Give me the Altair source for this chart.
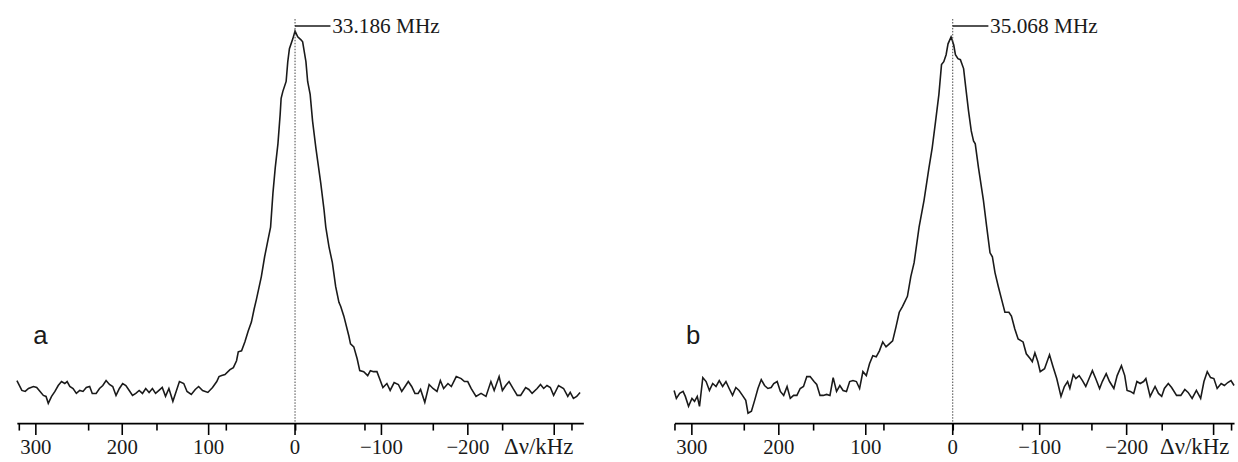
import altair as alt
import pandas as pd

# ---------------- data ----------------
A_KHZ = [321.9, 316.2, 312.3, 308.5, 302.8, 299.0, 295.1, 291.3, 288.2, 285.6,
         281.8, 277.9, 274.1, 270.3, 266.5, 263.8, 260.7, 256.9, 253.1, 249.2,
         245.4, 241.6, 237.7, 234.7, 230.2, 226.3, 222.5, 218.7, 214.8, 211.0,
         207.2, 203.3, 199.5, 195.8, 191.9, 188.1, 184.3, 180.4, 176.6, 172.8,
         168.9, 165.1, 161.4, 157.5, 153.7, 149.9, 146.0, 141.4, 137.6, 133.8,
         128.8, 125.0, 120.1, 115.5, 111.6, 107.0, 100.9, 95.5, 90.6, 88.0,
         84.9, 81.1, 75.3, 71.4, 67.7, 65.7, 61.9, 58.1, 54.2, 50.5,
         47.4, 44.7, 39.0, 35.2, 31.3, 28.3, 25.6, 22.9, 19.8, 17.2,
         16.1, 14.1, 10.3, 8.4, 6.5, 2.6, 0.0, -3.1, -6.9, -8.8,
         -12.6, -14.6, -17.5, -20.3, -24.1, -29.8, -33.6, -35.6, -39.3, -43.2,
         -47.0, -50.8, -52.8, -56.5, -62.3, -64.2, -68.0, -71.9, -74.9, -79.5,
         -84.1, -87.2, -90.9, -94.8, -97.8, -101.7, -106.3, -110.1, -114.7, -119.6,
         -123.5, -127.3, -131.1, -135.0, -138.8, -142.5, -145.3, -150.2, -155.2, -159.7,
         -164.3, -168.2, -172.0, -177.0, -180.9, -186.6, -192.3, -196.1, -199.9, -203.8,
         -209.5, -215.3, -221.0, -226.7, -230.5, -236.2, -240.0, -243.9, -247.7, -252.3,
         -257.2, -261.1, -266.9, -270.6, -274.4, -280.2, -284.1, -287.8, -291.6, -295.5,
         -299.3, -305.0, -310.8, -315.7, -318.5, -322.2, -326.0, -329.9]
A_INT = [43, 33, 32, 35, 37, 36, 32, 28, 27, 20,
         27, 32, 38, 42, 40, 42, 37, 35, 30, 33,
         32, 36, 37, 30, 30, 35, 38, 43, 39, 37,
         28, 35, 40, 38, 33, 28, 30, 33, 30, 35,
         31, 35, 30, 33, 36, 27, 35, 22, 32, 42,
         40, 32, 29, 34, 37, 33, 31, 36, 42, 47,
         48, 49, 54, 56, 63, 72, 73, 82, 93, 102,
         115, 125, 148, 168, 185, 198, 232, 258, 282, 312,
         328, 335, 345, 365, 378, 388, 396, 390, 387, 385,
         365, 345, 332, 305, 278, 242, 215, 198, 178, 162,
         138, 122, 118, 108, 88, 80, 77, 65, 53, 52,
         48, 53, 52, 52, 45, 36, 40, 33, 41, 39,
         32, 37, 42, 37, 30, 30, 34, 21, 39, 35,
         32, 43, 35, 40, 37, 47, 45, 42, 42, 35,
         27, 30, 27, 42, 33, 47, 33, 38, 42, 35,
         28, 28, 36, 34, 30, 35, 39, 35, 38, 36,
         28, 38, 35, 27, 31, 25, 27, 31]

B_KHZ = [320.4, 317.8, 314.0, 310.1, 307.5, 303.8, 299.9, 296.9, 293.8, 291.2,
         287.4, 283.6, 279.8, 276.0, 272.2, 268.5, 264.6, 260.8, 257.1, 253.2,
         249.4, 245.7, 241.8, 238.0, 235.4, 231.5, 227.8, 224.0, 220.2, 216.4,
         212.6, 208.8, 205.8, 201.9, 198.2, 194.4, 190.5, 186.8, 183.0, 179.2,
         175.4, 171.6, 167.8, 164.0, 159.5, 156.4, 152.6, 148.9, 145.0, 141.2,
         137.5, 133.6, 129.8, 126.1, 122.2, 118.5, 114.7, 110.8, 107.1, 103.3,
         99.4, 95.7, 91.9, 88.0, 84.3, 80.5, 76.7, 72.9, 69.1, 65.3,
         61.5, 57.7, 52.1, 48.2, 44.4, 38.7, 33.0, 27.3, 23.6, 19.7,
         15.9, 12.9, 10.3, 7.6, 5.4, 1.9, -1.1, -3.1, -6.0, -8.8,
         -12.5, -15.1, -18.2, -21.3, -23.9, -25.9, -29.6, -35.3, -39.1, -42.9,
         -45.6, -48.6, -52.4, -56.2, -60.0, -64.6, -67.5, -71.4, -75.2, -80.9,
         -84.6, -89.2, -91.5, -94.5, -97.9, -100.6, -105.6, -111.3, -115.0, -119.6,
         -124.5, -128.4, -132.1, -134.7, -138.6, -141.6, -145.4, -149.2, -153.0, -156.8,
         -160.6, -164.4, -168.9, -172.0, -176.5, -180.3, -185.3, -189.1, -194.0, -197.8,
         -200.5, -204.2, -208.1, -211.8, -215.6, -219.5, -222.1, -227.0, -232.7, -236.6,
         -240.3, -243.4, -247.9, -251.7, -257.4, -262.3, -266.9, -270.7, -275.3, -280.2,
         -285.1, -288.9, -292.7, -296.5, -300.3, -304.1, -308.7, -312.4, -316.3, -320.0,
         -323.5]
B_INT = [33, 25, 30, 32, 27, 17, 25, 22, 27, 17,
         46, 42, 33, 40, 37, 43, 37, 42, 35, 28,
         36, 33, 28, 23, 10, 12, 23, 35, 44, 38,
         35, 36, 40, 42, 32, 28, 37, 25, 28, 28,
         35, 37, 47, 47, 42, 39, 28, 28, 29, 28,
         46, 32, 38, 33, 32, 42, 43, 42, 35, 52,
         48, 60, 68, 67, 73, 82, 77, 80, 83, 97,
         112, 118, 128, 148, 162, 198, 225, 258, 278, 305,
         332, 362, 365, 372, 383, 390, 382, 372, 368, 367,
         358, 338, 315, 295, 285, 282, 258, 225, 198, 172,
         168, 152, 138, 125, 112, 112, 108, 95, 85, 82,
         70, 65, 62, 71, 62, 52, 55, 69, 58, 45,
         27, 37, 42, 35, 49, 45, 48, 43, 37, 45,
         53, 45, 35, 42, 50, 42, 35, 48, 58, 48,
         33, 32, 30, 42, 40, 42, 45, 27, 37, 30,
         27, 35, 40, 36, 28, 28, 34, 31, 25, 33,
         25, 42, 52, 46, 45, 35, 40, 38, 41, 43,
         38]

MINOR_TICKS = list(range(-320, 321, 20))
MAJOR_TICKS = [300, 200, 100, 0, -100, -200, -300]
MAJOR_LABELS = ["300", "200", "100", "0", "\u2212100", "\u2212200", ""]
PANEL_LETTERS = ["a", "b"]
PEAK_LABELS = ["33.186 MHz", "35.068 MHz"]
UNIT_LABEL = "Δν/kHz"

SERIF = "Liberation Serif"
SANS = "Liberation Sans"
INK = "#1a1a1a"
AXIS_Y = 425


def panel(khz, inten, domain, width, letter, peak_label, peak_top,
          letter_x, leader_end, unit_x):
    df = pd.DataFrame({"khz": khz, "int": inten})
    xs = alt.Scale(domain=domain, nice=False, zero=False)
    ys = alt.Scale(domain=[0, AXIS_Y], nice=False, zero=False)
    axis = alt.Axis(
        values=MINOR_TICKS,
        title=None,
        grid=False,
        labels=False,
        domainColor="black",
        domainWidth=2,
        tickColor="black",
        tickWidth=1.6,
        tickSize=7,
    )
    line = alt.Chart(df).mark_line(color=INK, strokeWidth=1.6).encode(
        x=alt.X("khz:Q", scale=xs, axis=axis),
        y=alt.Y("int:Q", scale=ys, axis=None),
    )
    majors = pd.DataFrame({"k": MAJOR_TICKS, "lab": MAJOR_LABELS})
    major_ticks = alt.Chart(majors).mark_rule(color="black", strokeWidth=1.6).encode(
        x="k:Q", y=alt.value(AXIS_Y), y2=alt.value(AXIS_Y + 12)
    )
    major_labels = alt.Chart(majors).mark_text(
        align="center", baseline="top", font=SERIF, fontSize=21, color=INK
    ).encode(x="k:Q", y=alt.value(AXIS_Y + 14), text="lab:N")
    center = alt.Chart(pd.DataFrame({"khz": [0], "top": [peak_top], "bot": [0]})).mark_rule(
        color="#444", strokeWidth=1, strokeDash=[1.5, 1.5]
    ).encode(x="khz:Q", y="top:Q", y2="bot:Q")
    leader = alt.Chart(pd.DataFrame({"k1": [0], "k2": [leader_end], "yy": [401]})).mark_rule(
        color=INK, strokeWidth=1.5
    ).encode(x="k1:Q", x2="k2:Q", y="yy:Q")
    peak_txt = alt.Chart(pd.DataFrame({"k": [leader_end - 2], "yy": [400], "t": [peak_label]})).mark_text(
        align="left", baseline="middle", font=SERIF, fontSize=21.5, color=INK
    ).encode(x="k:Q", y="yy:Q", text="t:N")
    letter_txt = alt.Chart(pd.DataFrame({"k": [letter_x], "yy": [88], "t": [letter]})).mark_text(
        align="center", baseline="middle", font=SANS, fontSize=26, color=INK
    ).encode(x="k:Q", y="yy:Q", text="t:N")
    unit_txt = alt.Chart(pd.DataFrame({"k": [unit_x], "t": [UNIT_LABEL]})).mark_text(
        align="right", baseline="top", font=SERIF, fontSize=23, color=INK
    ).encode(x="k:Q", y=alt.value(AXIS_Y + 13), text="t:N")
    return alt.layer(line, major_ticks, major_labels, center, leader, peak_txt,
                     letter_txt, unit_txt).properties(width=width, height=AXIS_Y)


pa = panel(A_KHZ, A_INT, [322, -333.7], 572, PANEL_LETTERS[0], PEAK_LABELS[0], 408,
           294.7, -41, -322)
pb = panel(B_KHZ, B_INT, [320, -323.5], 565, PANEL_LETTERS[1], PEAK_LABELS[1], 408,
           298.4, -41, -318)

chart = alt.hconcat(pa, pb, spacing=88).properties(
    padding={"left": 13, "top": 0, "right": 0, "bottom": 0}
).configure_view(stroke=None)

chart.save("out.html", embed_options={"renderer": "svg", "actions": False})
